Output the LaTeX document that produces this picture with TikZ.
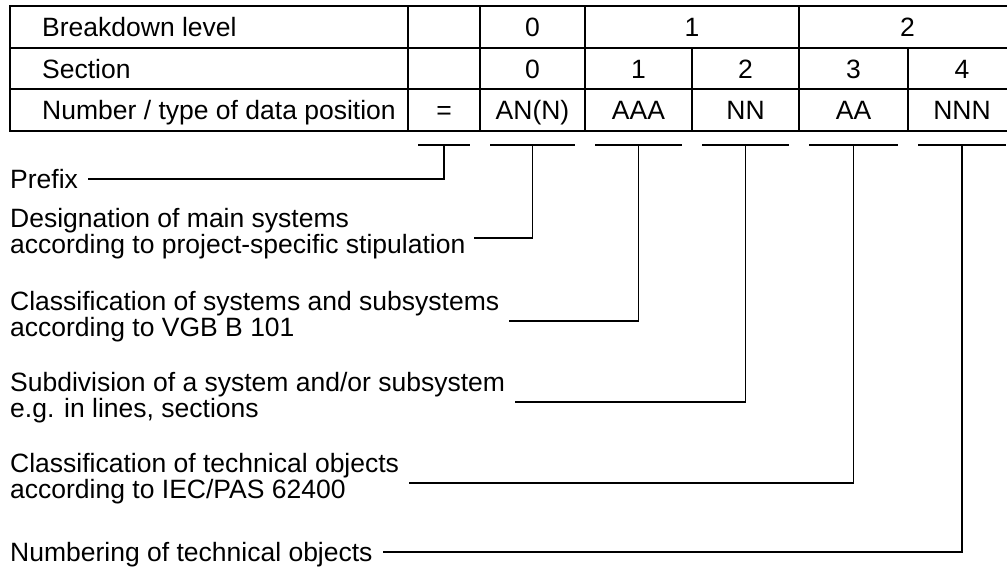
\documentclass[tikz,border=0pt]{standalone}
\usepackage{fontspec}
\setmainfont{Liberation Sans}
\begin{document}
\begin{tikzpicture}[x=1pt,y=-1pt,
		font=\fontsize{26.5}{26}\selectfont,
		cell/.style={anchor=base,inner sep=0pt},
		lbl/.style={anchor=base west,inner sep=0pt,align=left},
		seg/.style={line width=1.3pt},
		conn/.style={line width=1.3pt}]
	\useasboundingbox (0,0) rectangle (1007,568);
	\clip (0,0) rectangle (1007,568);
	\draw[line width=2pt] (10,6) rectangle (1016,131)
		   (10,48)--(1016,48)
		   (10,89)--(1016,89)
		   (408,6)--(408,131) (480,6)--(480,131) (585,6)--(585,131)
		   (799,6)--(799,131) (692,48)--(692,131) (908,48)--(908,131);
	\node[lbl] (lev) at (42,36.5) {Breakdown level};
	\node[lbl] (sec) at (42,78) {Section};
	\node[lbl] (num) at (42,119.5) {Number / type of data position};
	\node[cell] (lev0) at (532.5,36.5) {0};
	\node[cell] (lev1) at (692,36.5) {1};
	\node[cell] (lev2) at (907.5,36.5) {2};
	\node[cell] (sec0) at (532.5,78) {0};
	\node[cell] (sec1) at (638.5,78) {1};
	\node[cell] (sec2) at (745.5,78) {2};
	\node[cell] (sec3) at (853.5,78) {3};
	\node[cell] (sec4) at (962,78) {4};
	\node[cell] (pos) at (444,119.5) {=};
	\node[cell] (pos0) at (532.5,119.5) {AN(N)};
	\node[cell] (pos1) at (638.5,119.5) {AAA};
	\node[cell] (pos2) at (745.5,119.5) {NN};
	\node[cell] (pos3) at (853.5,119.5) {AA};
	\node[cell] (pos4) at (962,119.5) {NNN};
	\coordinate (s) at (444,145);
	\coordinate (s0) at (532.5,145);
	\coordinate (s1) at (638.5,145);
	\coordinate (s2) at (745.5,145);
	\coordinate (s3) at (853.5,145);
	\coordinate (s4) at (962,145);
	\draw[seg] ([xshift=-26]s)--([xshift=26]s)
		  ([xshift=-42.5]s0)--([xshift=42.5]s0)
		  ([xshift=-43.5]s1)--([xshift=43.5]s1)
		  ([xshift=-43.5]s2)--([xshift=43.5]s2)
		  ([xshift=-44.5]s3)--([xshift=44.5]s3)
		  ([xshift=-44]s4)--([xshift=44]s4);
	\node[lbl] (pre) at (10,188.5) {Prefix};
	\node[lbl] (dsg) at (10,253) {Designation of main systems\\according to project-specific stipulation};
	\node[lbl] (cls) at (10,336) {Classification of systems and subsystems\\according to VGB B 101};
	\node[lbl] (sub) at (10,417) {Subdivision of a system and/or subsystem\\e.g. in lines, sections};
	\node[lbl] (obj) at (10,498) {Classification of technical objects\\according to IEC/PAS 62400};
	\node[lbl] (nbr) at (10,561.5) {Numbering of technical objects};
	\draw[conn] (s) |- ([shift={(10,-9.5)}]pre.base east);
	\draw[conn] (s0) |- ([shift={(8,-15)}]dsg.base east);
	\draw[conn] (s1) |- ([shift={(10,-15)}]cls.base east);
	\draw[conn] (s2) |- ([shift={(10,-15)}]sub.base east);
	\draw[conn] (s3) |- ([shift={(10,-15)}]obj.base east);
	\draw[conn] (s4) |- ([shift={(10,-9.5)}]nbr.base east);
\end{tikzpicture}
\end{document}
